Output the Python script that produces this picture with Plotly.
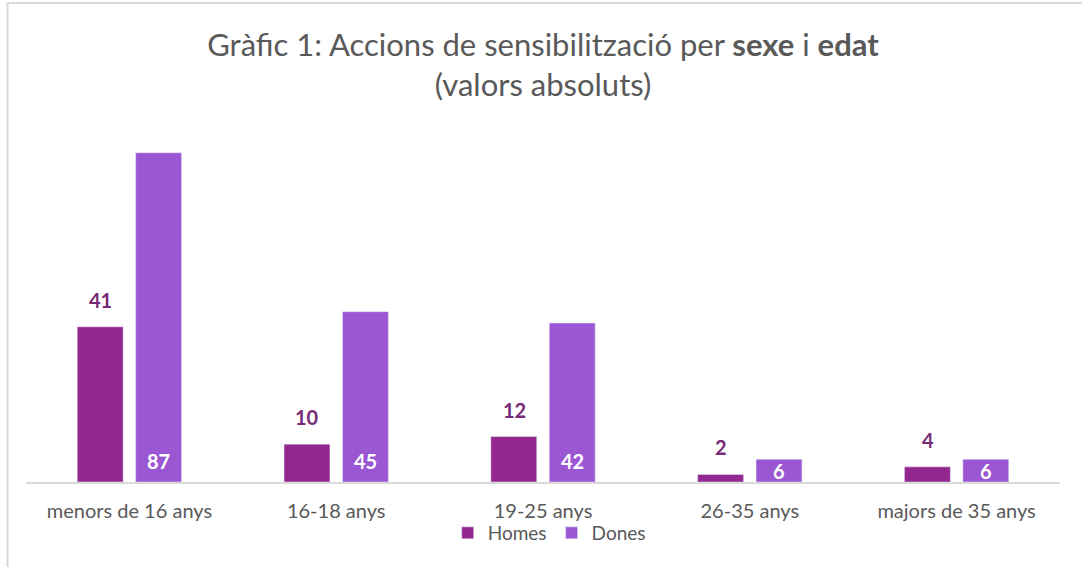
import plotly.graph_objects as go

categories = ["menors de 16 anys", "16-18 anys", "19-25 anys", "26-35 anys", "majors de 35 anys"]
homes = [41, 10, 12, 2, 4]
dones = [87, 45, 42, 6, 6]

C_HOMES = "#92278F"
C_DONES = "#9B57D3"
C_HLABEL = "#772A76"
GRAY = "#595959"
FONT = "Lato"

ML, MR, MT, MB = 25.5, 21.5, 130, 85
W, H = 1082, 567
YMAX = 93
PLOT_H = H - MT - MB
PX_PER_UNIT = PLOT_H / YMAX

fig = go.Figure()
fig.add_trace(go.Bar(name="Homes", x=categories, y=homes, marker_color=C_HOMES))
fig.add_trace(go.Bar(name="Dones", x=categories, y=dones, marker_color=C_DONES))

annotations = []
for c, h, d in zip(categories, homes, dones):
    annotations.append(dict(x=c, y=h, xref="x", yref="y", text=f"<b>{h}</b>", showarrow=False,
                            xshift=-29, yshift=27, font=dict(family=FONT, size=20, color=C_HLABEL)))
    annotations.append(dict(x=c, y=0, xref="x", yref="y", text=f"<b>{d}</b>", showarrow=False,
                            xshift=29, yshift=min(21, d * PX_PER_UNIT / 2),
                            font=dict(family=FONT, size=20, color="white")))

fx = (7 - ML) / (W - ML - MR)
fy = (H - MB - 3) / PLOT_H

fig.update_layout(
    width=W, height=H,
    margin=dict(l=ML, r=MR, t=MT, b=MB, autoexpand=False),
    paper_bgcolor="white", plot_bgcolor="white",
    barmode="group", bargap=0.435, bargroupgap=0.214,
    title=dict(text="Gràfic 1: Accions de sensibilització per <b>sexe</b> i <b>edat</b><br>(valors absoluts)",
               x=0.5, xanchor="center", xref="paper", y=1 - 56 / H, yanchor="top", yref="container",
               font=dict(family=FONT, size=31, color=GRAY)),
    xaxis=dict(showline=True, linecolor="#D9D9D9", linewidth=2, ticks="", showgrid=False,
               ticklabelstandoff=10,
               tickfont=dict(family=FONT, size=20, color=GRAY)),
    yaxis=dict(range=[0, YMAX], visible=False, showgrid=False),
    showlegend=True,
    legend=dict(orientation="h", x=0.506, xanchor="center", y=-51 / PLOT_H, yanchor="middle",
                bgcolor="rgba(0,0,0,0)",
                font=dict(family=FONT, size=19, color=GRAY), itemwidth=30),
    annotations=annotations,
    shapes=[
        dict(type="line", xref="paper", yref="paper", x0=fx, x1=fx, y0=-0.3, y1=fy,
             line=dict(color="#D9D9D9", width=2)),
        dict(type="line", xref="paper", yref="paper", x0=fx, x1=1.1, y0=fy, y1=fy,
             line=dict(color="#D9D9D9", width=2)),
    ],
)

fig.write_html("out.html", config={"displayModeBar": False},
               post_script="document.body.style.margin='0';")
